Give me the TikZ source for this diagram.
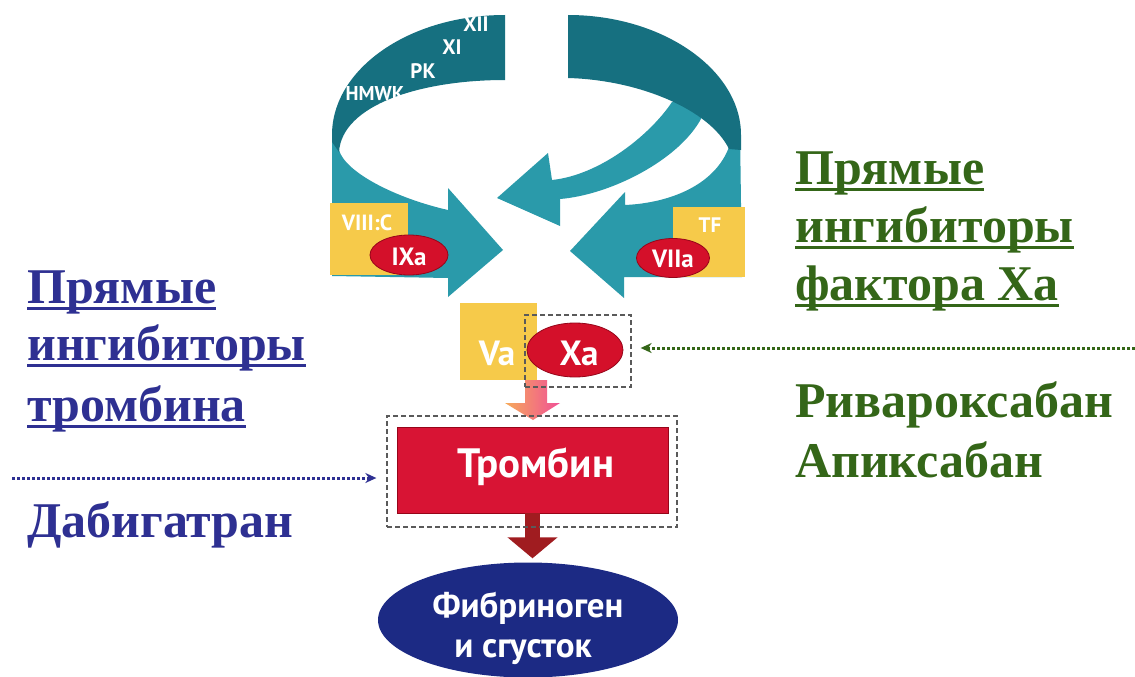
\documentclass[tikz,border=0pt]{standalone}
\usepackage{fontspec}
\setmainfont{Liberation Serif}
\newfontfamily\lblfont{PT Sans}
\usetikzlibrary{shapes.geometric,arrows.meta,calc}
\definecolor{tealD}{RGB}{22,112,128}
\definecolor{tealL}{RGB}{42,154,170}
\definecolor{yellowB}{RGB}{246,202,74}
\definecolor{redE}{RGB}{212,16,42}
\definecolor{redEd}{RGB}{150,5,25}
\definecolor{redBox}{RGB}{216,20,52}
\definecolor{darkRed}{RGB}{160,28,32}
\definecolor{navyE}{RGB}{28,42,132}
\definecolor{blueT}{RGB}{46,48,146}
\definecolor{greenT}{RGB}{52,102,24}
\definecolor{orangeA}{RGB}{246,170,90}
\definecolor{pinkA}{RGB}{240,80,150}
\definecolor{dashG}{RGB}{90,90,90}
\begin{document}
\begin{tikzpicture}[x=1pt,y=-1pt,
  lbl/.style={text=white, inner sep=0pt, anchor=base},
  boxY/.style={fill=yellowB, draw=none, inner sep=0pt},
  redell/.style={ellipse, fill=redE, draw=redEd, line width=0.8pt, inner sep=0pt},
  dashbox/.style={draw=dashG, line width=1.3pt, dash pattern=on 5pt off 3pt, inner sep=0pt},
  serifB/.style={font=\fontsize{50}{58}\selectfont\bfseries, inner sep=0pt, anchor=base west},
  uline/.style={line width=2.4pt},
  dotarrow/.style={line width=3pt, dash pattern=on 2.6pt off 2.4pt, -{Stealth[length=11pt,width=10pt]}}
]
\fill[white] (0,0) rectangle (1135,677);
\useasboundingbox (0,0) rectangle (1135,677);

% ---- teal bands (light parts) ----
\fill[tealL] (332,130) -- (332,276) -- (448,278) -- (448,297) -- (503,250) -- (448,188) -- (448,210)
  .. controls (395,198) and (345,172) .. (339,150) -- cycle;
\fill[tealL] (740,130) -- (742,277) -- (624,277) -- (624,298) -- (570,251) -- (625,192) -- (625,205)
  .. controls (670,203) and (715,185) .. (729,147) -- cycle;
\fill[tealL] (672,102) .. controls (650,135) and (600,175) .. (552,180) -- (548,153) -- (497,198)
  -- (560,226) -- (560,199) .. controls (610,195) and (680,160) .. (702,117) -- (690,100) -- cycle;
% ---- dark ring parts ----
\fill[tealD] (505,15) .. controls (409,15) and (332,69) .. (332,135) -- (332,142) -- (339,152)
  .. controls (342,105) and (420,80) .. (505,80) -- cycle;
\fill[tealD] (568,15) .. controls (663,15) and (741,70) .. (741,135) -- (741,150) -- (729,149)
  .. controls (710,110) and (640,80) .. (568,78) -- cycle;

% ---- ring labels ----
\node[lbl, font=\lblfont\bfseries\fontsize{21}{21}\selectfont] (xii) at (476,32) {XII};
\node[lbl, font=\lblfont\bfseries\fontsize{21}{21}\selectfont] (xi) at (452,55) {XI};
\node[lbl, font=\lblfont\bfseries\fontsize{21}{21}\selectfont] (pk) at (423,78) {PK};
\node[lbl, font=\lblfont\bfseries\fontsize{20}{20}\selectfont] (hmwk) at (375,100) {HMWK};

% ---- complexes ----
\node[boxY, minimum width=78pt, minimum height=72pt] (viiic) at (369,239) {};
\node[lbl, font=\lblfont\bfseries\fontsize{22}{22}\selectfont] (viiict) at (367,230) {VIII:C};
\node[redell, minimum width=78pt, minimum height=40pt] (ixa) at (409,255) {};
\node[lbl, font=\lblfont\bfseries\fontsize{25}{25}\selectfont] (ixat) at (409,265) {IXa};

\node[boxY, minimum width=72pt, minimum height=70pt] (tf) at (709,242) {};
\node[lbl, font=\lblfont\bfseries\fontsize{21}{21}\selectfont] (tft) at (710,232) {TF};
\node[redell, minimum width=73pt, minimum height=39pt] (viia) at (673,258) {};
\node[lbl, font=\lblfont\bfseries\fontsize{25}{25}\selectfont] (viiat) at (673,267) {VIIa};

\node[boxY, minimum width=77pt, minimum height=77pt] (va) at (498.5,341.5) {};
\node[lbl, font=\lblfont\bfseries\fontsize{35}{35}\selectfont] (vat) at (497,365) {Va};
\node[redell, minimum width=96pt, minimum height=54pt] (xa) at (575,350) {};
\node[lbl, font=\lblfont\bfseries\fontsize{35}{35}\selectfont] (xat) at (579,365) {Xa};

% gradient block arrow
\shade[left color=orangeA, right color=pinkA] (525,380) -- (547,380) -- (547,403) -- (560,403)
  -- (533,420) -- (505,403) -- (525,403) -- cycle;

% thrombin
\node[fill=redBox, draw=redEd, line width=0.6pt, minimum width=271pt, minimum height=86pt, inner sep=0pt] (thr) at (532.5,470) {};
\node[lbl, font=\lblfont\bfseries\fontsize{41}{41}\selectfont] (thrt) at (536,477) {Тромбин};

% fibrinogen
\node[ellipse, fill=navyE, minimum width=300pt, minimum height=115pt, inner sep=0pt] (fib) at (528,620) {};
\node[lbl, font=\lblfont\bfseries\fontsize{35}{35}\selectfont] (fibt1) at (528,617) {Фибриноген};
\node[lbl, font=\lblfont\bfseries\fontsize{35}{35}\selectfont] (fibt2) at (523,657) {и сгусток};

\draw[darkRed, line width=15pt, -{Triangle[width=49pt,length=21pt]}] (thr.south) -- ([yshift=4pt]thr.south |- fib.north);

% dashed boxes
\node[dashbox, minimum width=106pt, minimum height=72pt] (xdash) at (578,351) {};
\node[dashbox, minimum width=290pt, minimum height=111pt] (tdash) at (532,471.5) {};

% ---- left texts ----
\node[serifB, text=blueT] (lt1) at (27,303) {Прямые};
\node[serifB, text=blueT] (lt2) at (27,360) {ингибиторы};
\node[serifB, text=blueT] (lt3) at (27,421) {тромбина};
\node[serifB, text=blueT] (ld) at (27,537) {Дабигатран};
\foreach \n in {lt1,lt2,lt3}
  \draw[blueT, uline] ($(\n.base west)+(0,5.5)$) -- ($(\n.base east)+(0,5.5)$);

% ---- right texts ----
\node[serifB, text=greenT] (rt1) at (795,184) {Прямые};
\node[serifB, text=greenT] (rt2) at (795,242) {ингибиторы};
\node[serifB, text=greenT] (rt3) at (795,300) {фактора Ха};
\node[serifB, text=greenT] (rr) at (795,417) {Ривароксабан};
\node[serifB, text=greenT] (ra) at (795,477) {Апиксабан};
\foreach \n in {rt1,rt2,rt3}
  \draw[greenT, uline] ($(\n.base west)+(0,5.5)$) -- ($(\n.base east)+(0,5.5)$);

% ---- dotted arrows ----
\coordinate (bs) at (12,478);
\draw[blueT, dotarrow, shorten >=10pt] (bs) -- (bs -| tdash.west);
\coordinate (gs) at (1135,348);
\draw[greenT, dotarrow, shorten >=9pt] (gs) -- (gs -| xdash.east);
\end{tikzpicture}
\end{document}
